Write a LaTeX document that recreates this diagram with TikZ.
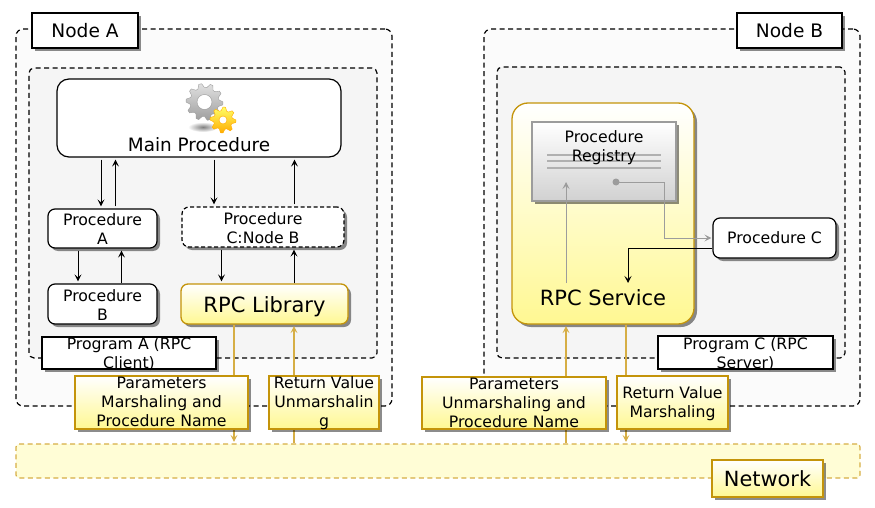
\documentclass[tikz,border=0pt]{standalone}
\usepackage{fontspec}
\setmainfont{DejaVu Sans}
\usetikzlibrary{arrows.meta, shadows}
\pgfdeclarelayer{front}
\pgfsetlayers{main,front}
\definecolor{goldline}{HTML}{C4940A}
\definecolor{goldarrow}{HTML}{D6AE45}
\definecolor{goldfill}{HTML}{FFF892}
\definecolor{bandfill}{HTML}{FFFDD6}
\definecolor{greyline}{HTML}{9C9C9C}
% text that may run past the top and bottom of its box, as in the reference
\newcommand{\tightlabel}[2][5]{\raisebox{-#1pt}[0pt][0pt]{\begin{tabular}{@{}c@{}}#2\end{tabular}}}
\newcommand{\lowlabel}[2]{\raisebox{-#1pt}[0pt][0pt]{#2}}
% x, y, outer radius, root radius, hole radius, teeth, top colour, bottom colour
\newcommand{\gearwheel}[8]{%
    \shade[even odd rule, top color=#7, bottom color=#8, draw=#8, line width=0.4pt]
        plot[domain=0:360, samples=#6*4+1] ({#1+ifthenelse(mod(\x+1,360/#6)<180/#6,#3,#4)*cos(\x)}, {#2+ifthenelse(mod(\x+1,360/#6)<180/#6,#3,#4)*sin(\x)}) -- cycle
        (#1,#2) circle (#5);
}
\begin{document}
\begin{tikzpicture}[
        x=1pt, y=-1pt,
        >={Stealth[length=7pt, width=7pt, inset=3pt]},
        line width=1.2pt,
        every node/.style={align=center, inner sep=0pt},
        smalltext/.style={font=\fontsize{15.7}{19}\selectfont},
        shadowed/.style={drop shadow={shadow xshift=3pt, shadow yshift=-3pt, fill=black, opacity=0.45}},
        groupbox/.style={rectangle, rounded corners=7pt, draw, dash pattern=on 5pt off 3.5pt, fill=black!1.5},
        progbox/.style={rectangle, rounded corners=5pt, draw, dash pattern=on 5pt off 3.5pt, fill=black!4},
        titlebox/.style={rectangle, draw, fill=white, shadowed, font=\fontsize{18.6}{22}\selectfont},
        progtitle/.style={rectangle, draw, fill=white, shadowed, smalltext},
        procbox/.style={rectangle, rounded corners=7pt, draw, fill=white, shadowed, smalltext},
        remotebox/.style={procbox, dash pattern=on 4pt off 2.5pt},
        goldbox/.style={rectangle, draw=goldline, line width=1.3pt, top color=white, bottom color=goldfill, shadowed, smalltext},
        bigbox/.style={goldbox, rounded corners=7pt, font=\fontsize{21}{25}\selectfont},
        link/.style={->, black, line width=1pt, shorten >=2pt, shorten <=2pt},
        goldlink/.style={->, goldarrow, line width=1.2pt, shorten >=1.5pt},
        greylink/.style={->, greyline, line width=0.9pt}
    ]
    \useasboundingbox (0,0) rectangle (875,508);

    % outer boxes
    \node[groupbox, minimum width=376pt, minimum height=377pt] (nodea) at (204,217.5) {};
    \node[groupbox, minimum width=376pt, minimum height=377pt] (nodeb) at (672,217.5) {};
    \node[progbox, minimum width=348pt, minimum height=290pt] (proga) at (203,213) {};
    \node[progbox, minimum width=348pt, minimum height=291pt] (progc) at (671,212.5) {};
    \node[rectangle, rounded corners=3pt, draw=goldarrow, dash pattern=on 5pt off 3.5pt, fill=bandfill, minimum width=844pt, minimum height=34pt] (band) at (438,461) {};

    \node[titlebox, minimum width=106pt, minimum height=35pt] (titlea) at (85,30.5) {Node A};
    \node[titlebox, minimum width=105pt, minimum height=35pt] (titleb) at (789.5,30.5) {Node B};

    % node A
    \node[rectangle, draw, fill=white, rounded corners=12pt, minimum width=284pt, minimum height=78pt, font=\fontsize{18.4}{22}\selectfont] (main) at (199,118) {\lowlabel{33}{Main Procedure}};
    \node[procbox, minimum width=109pt, minimum height=39pt] (procA) at (102.5,228.5) {\tightlabel[6]{Procedure\\A}};
    \node[procbox, minimum width=109pt, minimum height=40pt] (procB) at (102.5,304) {\tightlabel[7]{Procedure\\B}};
    \node[remotebox, minimum width=162pt, minimum height=40pt] (procCB) at (263,227) {\tightlabel[7]{Procedure\\C:Node B}};
    \node[bigbox, minimum width=167pt, minimum height=40pt] (rpclib) at (264.5,304) {\lowlabel{8}{RPC Library}};
    \node[progtitle, minimum width=174pt, minimum height=32pt] (labela) at (129,353) {\tightlabel[6]{Program A (RPC\\Client)}};

    % icon of main procedure
    \shade[inner color=black!50, outer color=white] (203,127) ellipse (15 and 5);
    \gearwheel{204.5}{102}{18.5}{14.5}{7.5}{10}{black!12}{black!38}
    \gearwheel{223}{120}{13}{9.5}{4}{8}{yellow!60!white}{orange!65!yellow}

    % node B
    \node[bigbox, rounded corners=16pt, minimum width=182pt, minimum height=221pt] (service) at (603,213.5) {\lowlabel{92}{RPC Service}};
    \node[rectangle, draw=greyline, top color=white, bottom color=black!18, shadowed, smalltext, minimum width=144pt, minimum height=79pt,
        path picture={
            \foreach \ly in {-6.5,-0.5,6.5}
                \draw[greyline!80, line width=1.4pt] ([shift={(-57,\ly)}]path picture bounding box.center) -- ([shift={(57,\ly)}]path picture bounding box.center);
        }] (registry) at (604,161.5) {\raisebox{10pt}[0pt][0pt]{\begin{tabular}{@{}c@{}}Procedure\\Registry\end{tabular}}};
    \node[procbox, minimum width=123pt, minimum height=40pt] (procC) at (774.5,238) {Procedure C};
    \node[progtitle, minimum width=175pt, minimum height=33pt] (labelc) at (745.5,352.5) {\tightlabel[6]{Program C (RPC\\Server)}};
    \node[circle, fill=greyline, minimum size=7pt] (regdot) at (616,182) {};
    \coordinate (regin) at (566,182);
    \coordinate (svcin) at (566,283);
    \coordinate (svcout) at (628,283);
    \coordinate (regbend) at (664.5,238);

    % network
    \begin{pgfonlayer}{front}
        \node[goldbox, minimum width=173pt, minimum height=53pt] (marshal) at (161.5,402.5) {\tightlabel{Parameters\\Marshaling and\\Procedure Name}};
        \node[goldbox, minimum width=110pt, minimum height=53pt] (retun) at (324,402.5) {\tightlabel{Return Value\\Unmarshalin\\g}};
        \node[goldbox, minimum width=184pt, minimum height=52pt] (unmarshal) at (514,403) {\tightlabel{Parameters\\Unmarshaling and\\Procedure Name}};
        \node[goldbox, minimum width=111pt, minimum height=53pt] (retmar) at (672.5,402.5) {\tightlabel{Return Value\\Marshaling}};
        \node[goldbox, minimum width=111pt, minimum height=37pt, font=\fontsize{20.9}{25}\selectfont] (network) at (767.5,478.5) {Network};
    \end{pgfonlayer}

    \draw[link] ([xshift=-98pt]main.south) -- ([xshift=-1.5pt]procA.north);
    \draw[link] ([xshift=13pt]procA.north) -- ([xshift=-83.5pt]main.south);
    \draw[link] ([xshift=15pt]main.south) -- ([xshift=-49pt]procCB.north);
    \draw[link] ([xshift=31.5pt]procCB.north) -- ([xshift=95.5pt]main.south);
    \draw[link] ([xshift=-24.5pt]procA.south) -- ([xshift=-24.5pt]procB.north);
    \draw[link, shorten <=0pt] ([xshift=19pt]procB.north) -- ([xshift=19pt]procA.south);
    \draw[link] ([xshift=-41.5pt]procCB.south) -- ([xshift=-43pt]rpclib.north);
    \draw[link, shorten <=0pt] ([xshift=29.5pt]rpclib.north) -- ([xshift=31pt]procCB.south);

    \draw[goldlink] ([xshift=-30.5pt]rpclib.south) -- ([xshift=-204pt]band.north);
    \draw[goldlink] ([xshift=-144pt]band.north) -- ([xshift=29.5pt]rpclib.south);
    \draw[goldlink] ([xshift=128pt]band.north) -- ([xshift=-37pt]service.south);
    \draw[goldlink] ([xshift=23pt]service.south) -- ([xshift=188pt]band.north);

    \draw[greylink] (svcin) -- (regin);
    \draw[greylink, shorten >=1pt] (regdot.center) -| (regbend) -- (procC.west);
    \draw[link, shorten <=0pt, shorten >=0pt] ([yshift=-10pt]procC.west) -| (svcout);
\end{tikzpicture}
\end{document}
